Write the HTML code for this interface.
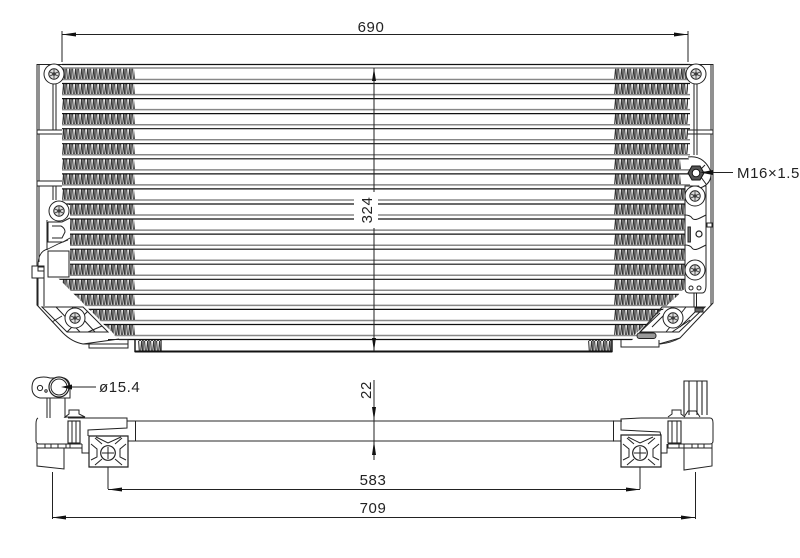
<!DOCTYPE html>
<html><head><meta charset="utf-8"><style>
html,body{margin:0;padding:0;background:#fff}
svg{display:block}
text{font-family:"Liberation Sans",sans-serif;font-size:15px;letter-spacing:.6px;fill:#222}
</style></head><body>
<svg width="800" height="558" viewBox="0 0 800 558" xmlns="http://www.w3.org/2000/svg">
<defs>
<pattern id="fin" patternUnits="userSpaceOnUse" width="6" height="11">
<rect width="6" height="11" fill="#fff"/>
<path d="M.6 0L1.4 11M3.6 0L2.6 11M4 0L4.6 11" fill="none" stroke="#333" stroke-width="1.1"/>
<path d="M5.600 0V11" stroke="#333" stroke-width=".7"/>
</pattern>
<clipPath id="finclip"><path d="M62 68H135V340H120L58 278H70V205H62ZM614 68H688V157H681V186H686V288L631 338H614Z"/></clipPath>
<clipPath id="core"><polygon points="62,60 690,60 690,288 685,288 631,341 120,341 58,278 70,278 70,205 62,205"/></clipPath>
<g id="finrow"><rect x="62" width="73" height="11" fill="url(#fin)"/><rect x="614" width="74" height="11" fill="url(#fin)"/></g>
<g id="bolt"><circle r="10" fill="#fff" stroke="#222" stroke-width="1"/><circle r="5.2" fill="#ddd" stroke="#222" stroke-width="1"/><circle r="2" fill="#777"/><path d="M-4-2L4 2M-4 2L4-2M0-4.5V4.5" stroke="#333" stroke-width=".8"/></g>
</defs>

<!-- fins -->
<g clip-path="url(#finclip)">
<use href="#finrow" y="68.500"/><use href="#finrow" y="84"/><use href="#finrow" y="99"/><use href="#finrow" y="114"/><use href="#finrow" y="129"/><use href="#finrow" y="144"/><use href="#finrow" y="159"/><use href="#finrow" y="174"/><use href="#finrow" y="189"/><use href="#finrow" y="204"/><use href="#finrow" y="219"/><use href="#finrow" y="234"/><use href="#finrow" y="249"/><use href="#finrow" y="264"/><use href="#finrow" y="279"/><use href="#finrow" y="294"/><use href="#finrow" y="309"/><use href="#finrow" y="324"/>
</g>
<g fill="url(#fin)"><rect x="138" y="340" width="24" height="11"/><rect x="588" y="340" width="24" height="11"/></g>

<!-- tube lines -->
<g clip-path="url(#core)" fill="none">
<path stroke="#888" stroke-width="1.5" d="M50 68H700M50 79.500H700M50 94.600H700M50 109.600H700M50 124.700H700M50 139.700H700M50 154.800H700M50 169.900H700M50 184.900H700M50 200H700M50 215H700M50 230.100H700M50 245.200H700M50 260.200H700M50 275.300H700M50 290.300H700M50 305.400H700M50 320.500H700M50 335.500H700"/>
<path stroke="#111" stroke-width="1.2" d="M50 64.500H700M50 83.500H700M50 98.600H700M50 113.600H700M50 128.700H700M50 143.700H700M50 158.800H700M50 173.900H700M50 188.900H700M50 204H700M50 219H700M50 234.100H700M50 249.200H700M50 264.200H700M50 279.300H700M50 294.300H700M50 309.400H700M50 324.500H700M50 339.500H700"/>
</g>
<!-- bottom tank -->
<path d="M135 340V351.500H612V340" fill="none" stroke="#111" stroke-width="1.4"/>
<path d="M135 351.500H612" stroke="#111" stroke-width="2"/>

<!-- gap behind 324 -->
<rect x="354" y="192" width="24" height="35" fill="#fff"/>

<!-- left frame -->
<g fill="none" stroke="#222" stroke-width="1">
<path d="M62 64.500H37V305L63 333Q72 342 83 344H90"/>
<path d="M39 64.500V130M39 134V181M39 186V262"/>
<path d="M37 130H62M37 134H62M37 181H62M37 186H62"/>
<path d="M53 84V130M56 84V130M53 186V200M56 186V200"/>
<path d="M44 278V306M47 220V250M38 278V306"/>
<path d="M48 222H62L70 218M48 222V242H63L70 238M52 226H61Q65 228 65 232L62 238H52"/>
<path d="M48 251H69V277H48Z" fill="#fff"/>
<path d="M38 266Q38 251 48 249L58 244L68 240" stroke-width=".9"/>
<rect x="32" y="266" width="12" height="12" fill="#fff"/><rect x="38" y="267" width="6" height="4"/>
<path d="M42 307H83L108 332H67Z"/>
<path d="M56 307L80 332M72 307L95 332M67 332L88 311M52 322L62 316M88 332L102 326"/>
<path d="M83 344L119 339M89 344H128V348H89ZM108 339.500H128V344"/>
</g>

<!-- right frame -->
<g fill="none" stroke="#222" stroke-width="1">
<path d="M688 64.500H713V303L680 338Q671 343 660 344"/>
<path d="M711 64.500V130M711 134V223M711 227V305"/>
<path d="M688 130H713M688 134H713"/>
<path d="M694 84V155M697 84V155"/>
<path d="M685 186H706V285Q706 293 702 293H689Q685 293 685 288Z" fill="#fff"/>
<path d="M685 215Q690 215 692 218T700 218T706 215M685 245Q690 245 692 248T700 248T706 245"/>
<rect x="707" y="223" width="5" height="4"/>
<rect x="688" y="227" width="2.400" height="15" fill="#777"/>
<circle cx="699" cy="234" r="3" stroke-width="1.200"/>
<circle cx="691" cy="288" r="2"/><circle cx="699" cy="288" r="2"/>
<path d="M694 293V307M696.500 293V307"/>
<path d="M662 307H705L679 332H640Z"/>
<path d="M672 307L652 327M686 307L666 332M640 332L660 313M690 320L672 332M700 307L680 327"/>
<rect x="695" y="308" width="8" height="4" fill="#666"/>
<rect x="637" y="333" width="19" height="5.500" rx="2.500" fill="#999"/>
<path d="M621 340V347H659V340M659 344L680 338"/>
</g>

<!-- port -->
<path d="M688 157Q704 155 711 172Q712 184 700 188" fill="#fff" stroke="#222"/>
<path d="M705 165L698 172L710 172M698 173L706 184" stroke="#222" fill="none"/>
<polygon points="688,173 692,166 700,166 704,173 700,180 692,180" fill="#555" stroke="#111"/>
<circle cx="696" cy="173" r="3.800" fill="#fff" stroke="#111"/>

<use href="#bolt" x="54" y="74"/>
<use href="#bolt" x="696" y="74"/>
<use href="#bolt" x="59" y="211"/>
<use href="#bolt" x="75" y="318"/>
<use href="#bolt" x="695" y="196"/>
<use href="#bolt" x="695" y="270"/>
<use href="#bolt" x="673" y="318"/>

<!-- top view dimensions -->
<g stroke="#222" stroke-width="1" fill="none">
<path d="M62 31V62M688 31V62M62 34.500H688"/>
<path d="M374 68V192M374 228V351"/>
<path d="M704 172.500H733"/>
</g>
<g fill="#111">
<polygon points="62,34.500 76,32.500 76,36.500"/><polygon points="688,34.500 674,32.500 674,36.500"/>
<polygon points="374,68 372,81 376,81"/><polygon points="374,351 372,338 376,338"/>
<polygon points="700,172.500 713,170 713,175"/>
</g>

<!-- long tube in lower view -->
<g fill="none" stroke="#555" stroke-width="1.200"><path d="M135 421H614M135 441H614"/></g>

<!-- lower left -->
<g fill="none" stroke="#222" stroke-width="1">
<path d="M37 378Q44 376 50 378H64Q70 380 70 388V398H48L40 398Q32 396 32 388T37 378Z" fill="#fff"/>
<circle cx="59" cy="387" r="10" fill="#fff" stroke-width="1.200"/><circle cx="59" cy="387" r="8"/>
<circle cx="40" cy="388" r="2.600"/><circle cx="46" cy="391" r="1.200"/>
<path d="M47 398V418M50 398V418M65 398V418"/>
<path d="M65 417L69 414V410H79V414L85 417Z"/>
<path d="M68 418L110 418H127V428L88 430V436M38 418Q36 419 36 424V441Q36 444 39 444H82M127 428V421"/>
<path d="M135.500 421V441M127 421H135M89 441H135"/>
<rect x="68" y="421" width="12" height="22" stroke-width="1.100"/><path d="M72 421V443M76 421V443"/>
<path d="M37 444V448H82V444M45 444V448M51 444V448M58 444V448M66 444V448M70 444V448"/>
<path d="M37 448V466L64 469V448"/>
<path d="M82 444V453H89"/>
<path d="M89 436H128V467H89Z" fill="#fff" stroke-width="1.200"/>
<path d="M95 438L102 444M122 438L115 444M95 465L102 459M122 465L115 459M91 444L97 449V457L91 460M126 444L120 449V457L126 460M96 437L108 443L121 437"/>
<circle cx="108" cy="453" r="7.300" fill="#fff" stroke-width="1.200"/>
<path d="M108 447V459M102 453H114M108 467V489"/>
<path d="M52.500 472V519"/>
</g>

<!-- lower right -->
<g fill="none" stroke="#222" stroke-width="1">
<path d="M684 415V381H707V415M689 381V415M697 381V415M702 381V415" stroke-width="1.100"/>
<path d="M668 417L672 414V410H681V414L685 417M684 417L688 411H696L700 417"/>
<path d="M641 418L621 419V430L660 432L661 436M641 418H710Q713 418 713 423V441Q713 444 710 444H668"/>
<path d="M613.500 421V441M613 421H622M613 441H622"/>
<rect x="668" y="421" width="13" height="22" stroke-width="1.100"/><path d="M672 421V443M677 421V443"/>
<path d="M668 444V448H712V444M679 444V448M684 444V448M692 444V448M698 444V448M704 444V448"/>
<path d="M684 448V470L712 466V448"/>
<path d="M667 444V453H661"/>
<path d="M621 435H661V467H621Z" fill="#fff" stroke-width="1.200"/>
<path d="M627 438L634 444M655 438L648 444M627 465L634 459M655 465L648 459M623 444L629 449V457L623 460M659 444L653 449V457L659 460M628 437L640 443L653 437"/>
<circle cx="640" cy="453" r="7.300" fill="#fff" stroke-width="1.200"/>
<path d="M640 447V459M634 453H646M640 467V489"/>
<path d="M695.500 472V519"/>
</g>

<!-- lower dimensions -->
<g stroke="#222" stroke-width="1" fill="none">
<path d="M108 489.500H640M52 517.500H695"/>
<path d="M374 380V460"/>
<path d="M65 387H96"/>
</g>
<g fill="#111">
<polygon points="108,489.500 122,487.500 122,491.500"/><polygon points="640,489.500 626,487.500 626,491.500"/>
<polygon points="52,517.500 66,515.500 66,519.500"/><polygon points="695,517.500 681,515.500 681,519.500"/>
<polygon points="374,420.500 372,407 376,407"/><polygon points="374,441 372,455 376,455"/>
<polygon points="61,387 72,384.500 72,389.500"/>
</g>

<!-- labels -->
<text x="371" y="32" text-anchor="middle">690</text>
<text x="373" y="485" text-anchor="middle">583</text>
<text x="373" y="513" text-anchor="middle">709</text>
<text x="737" y="178">M16×1.5</text>
<text x="99" y="392">ø15.4</text>
<text transform="translate(372,210) rotate(-90)" text-anchor="middle">324</text>
<text transform="translate(371,390) rotate(-90)" text-anchor="middle">22</text>
</svg>
</body></html>
